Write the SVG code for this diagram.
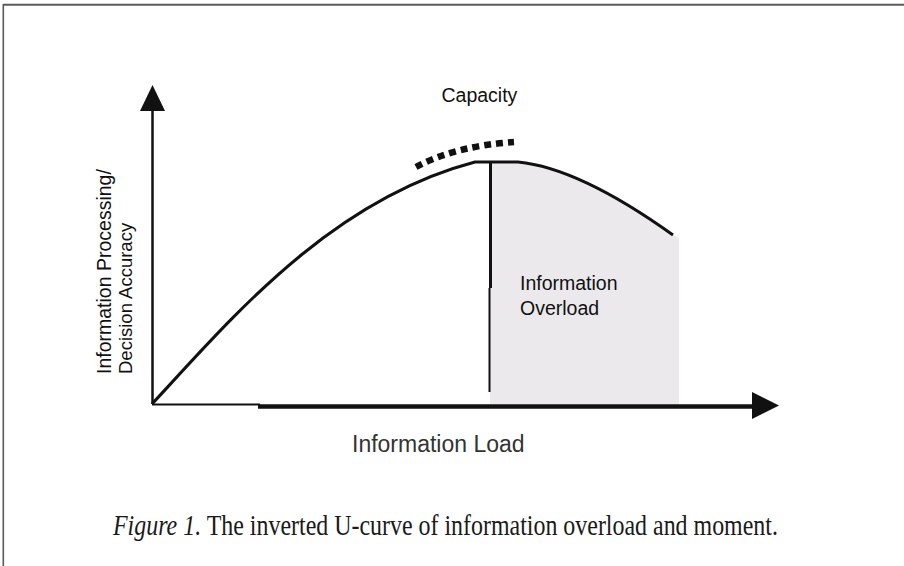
<svg xmlns="http://www.w3.org/2000/svg" width="904" height="566" viewBox="0 0 904 566">
<style>
.sans{font-family:"Liberation Sans",Arial,sans-serif;}
.serif{font-family:"Liberation Serif","Times New Roman",serif;}
.ink{stroke:#111;fill:none;}
</style>
<rect x="0" y="0" width="904" height="566" fill="#ffffff"/>
<g id="frame">
<line x1="3" y1="4.8" x2="904" y2="4.8" stroke="#5a5a5a" stroke-width="2"/>
<line x1="3.3" y1="4" x2="3.3" y2="566" stroke="#5a5a5a" stroke-width="1.6"/>
</g>
<g id="overload-area">
<path d="M490,162 L518,162 C560,166 610,190 673,235 L679,238 L679,404 L490,404 Z" fill="#ece9ec"/>
</g>
<g id="axes">
<line class="ink" x1="152.5" y1="108" x2="152.5" y2="404" stroke-width="2.5"/>
<polygon points="152.5,85 140,111 165,111" fill="#111"/>
<line class="ink" x1="152" y1="404.5" x2="260" y2="404.5" stroke="#333" stroke-width="2"/>
<line class="ink" x1="258" y1="406.5" x2="755" y2="406.5" stroke-width="4.5"/>
<polygon points="752,392 779,405.5 752,419" fill="#111"/>
</g>
<g id="curve">
<path class="ink" d="M152,404 C230,320 330,200 475,162 L518,162 C560,166 610,190 673,235" stroke-width="3"/>
<line class="ink" x1="490.5" y1="162" x2="490.5" y2="288" stroke-width="3"/>
<line class="ink" x1="489.5" y1="288" x2="489.5" y2="392" stroke-width="2"/>
</g>
<g id="capacity">
<path class="ink" d="M416,167 Q455,146 514,142" stroke-width="6.5" stroke-dasharray="7,5"/>
<text class="sans" x="441.5" y="101.5" font-size="19.5" fill="#111">Capacity</text>
</g>
<g id="overload-label">
<text class="sans" x="520" y="290" font-size="19.5" fill="#111">Information</text>
<text class="sans" x="520" y="315" font-size="19.5" fill="#111">Overload</text>
</g>
<g id="y-label">
<text class="sans" transform="translate(110.5,374) rotate(-90)" font-size="19.5" fill="#111">Information Processing/</text>
<text class="sans" transform="translate(132,374) rotate(-90)" font-size="18.5" fill="#111">Decision Accuracy</text>
</g>
<g id="x-label">
<text class="sans" x="352" y="451.5" font-size="23" fill="#333">Information Load</text>
</g>
<g id="caption">
<text class="serif" transform="translate(113,535) scale(0.825,1)" font-size="29" fill="#1a1a1a"><tspan font-style="italic">Figure 1.</tspan> The inverted U-curve of information overload and moment.</text>
</g>
</svg>
